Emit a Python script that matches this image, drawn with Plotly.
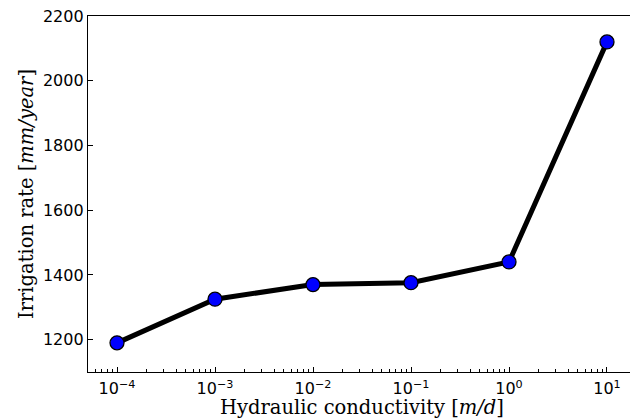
import plotly.graph_objects as go

conductivity = [1e-4, 1e-3, 1e-2, 1e-1, 1e0, 1e1]
irrigation = [1190, 1325, 1370, 1376, 1440, 2120]

x_tickvals = [1e-4, 1e-3, 1e-2, 1e-1, 1e0, 1e1]
x_ticktext = ["10<sup>−4</sup>", "10<sup>−3</sup>", "10<sup>−2</sup>", "10<sup>−1</sup>",
              "10<sup>0</sup>", "10<sup>1</sup>"]
y_tickvals = [1200, 1400, 1600, 1800, 2000, 2200]

minor_vals = [m * 10 ** e for e in range(-5, 2) for m in range(2, 10)]

fig = go.Figure()
fig.add_trace(go.Scatter(
    x=conductivity, y=irrigation, mode="lines+markers",
    line=dict(color="black", width=5),
    marker=dict(color="#0000ff", size=14, line=dict(color="black", width=1.3)),
    showlegend=False,
))

# page body has an 8px default margin, so the figure is sized to fill the window
fig.update_layout(
    width=630, height=411,
    margin=dict(l=80, r=2, t=8, b=47, autoexpand=False),
    paper_bgcolor="white", plot_bgcolor="white",
    font=dict(family="DejaVu Sans", color="black"),
)
fig.update_xaxes(
    type="log", range=[-4.296, 1.296], automargin=False,
    tickvals=x_tickvals, ticktext=x_ticktext,
    ticks="inside", ticklen=5, tickwidth=1, tickcolor="black",
    tickfont=dict(family="DejaVu Sans", size=16), ticklabelstandoff=2,
    ticklabeloverflow="allow",
    minor=dict(tickvals=minor_vals, ticks="inside", ticklen=3, tickwidth=0.8, tickcolor="black", showgrid=False),
    showline=True, linecolor="black", linewidth=1.3, mirror=True,
    showgrid=False, zeroline=False,
    title=dict(text="Hydraulic conductivity [<i>m/d</i>]",
               font=dict(family="DejaVu Serif", size=19.5), standoff=0),
)
fig.update_yaxes(
    range=[1100, 2200], tickvals=y_tickvals, automargin=False,
    ticks="inside", ticklen=5, tickwidth=1, tickcolor="black",
    tickfont=dict(family="DejaVu Sans", size=16), ticklabeloverflow="allow",
    showline=True, linecolor="black", linewidth=1.3, mirror=True,
    showgrid=False, zeroline=False,
    title=dict(text="Irrigation rate [<i>mm/year</i>]",
               font=dict(family="DejaVu Serif", size=19.5), standoff=4),
)

fig.write_html("out.html")
